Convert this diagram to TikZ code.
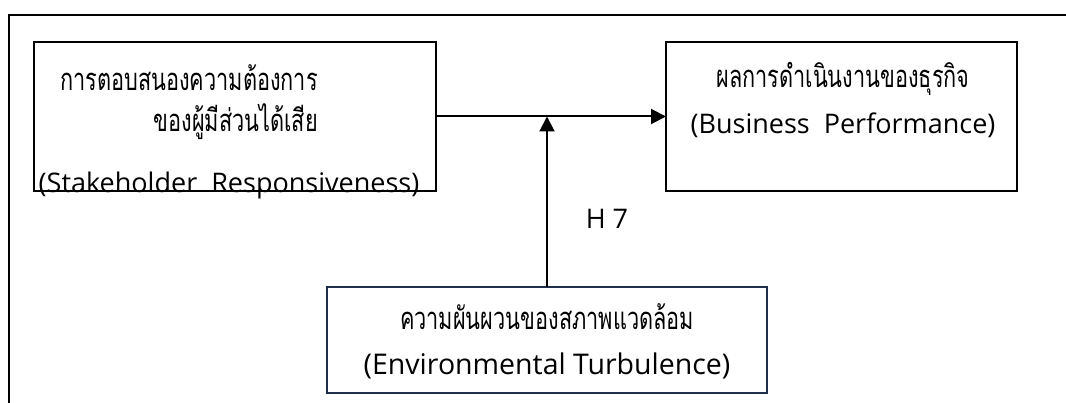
\documentclass[tikz,border=0pt]{standalone}
\usepackage{fontspec}
\setmainfont{Open Sans}
\newfontfamily\thaifont[Script=Thai,FakeStretch=0.7]{Loma}
\usetikzlibrary{arrows.meta}
\definecolor{navy}{RGB}{32,48,76}
\begin{document}
\begin{tikzpicture}[x=1pt,y=-1pt,
  box/.style={draw=black,line width=2pt,inner sep=0pt,outer sep=0pt,anchor=north west},
  lbl/.style={inner sep=0pt,font=\fontsize{27}{31}\selectfont},
  thl/.style={inner sep=0pt,font=\fontsize{31}{35}\selectfont\thaifont},
  arr/.style={line width=2pt,-{Triangle[length=15pt,width=15pt]}},
  frame/.style={line width=2.5pt}]
\useasboundingbox (0,0) rectangle (1066,403);
% outer frame (top and left only)
\coordinate (fr1) at (1066,15);
\coordinate (fr2) at (9,15);
\coordinate (fr3) at (9,403);
\draw[frame] (fr1) -- (fr2) -- (fr3);
% text first so borders lie on top
\node[thl,anchor=east] (l1) at (318,78) {การตอบสนองความต้องการ};
\node[thl,anchor=east] (l2) at (318,122) {ของผู้มีส่วนได้เสีย};
\node[lbl,anchor=base] (l3) at (229,192.5) {(Stakeholder\ \ Responsiveness)};
\node[thl] (r1) at (843,79) {ผลการดำเนินงานของธุรกิจ};
\node[lbl] (r2) at (843,125) {(Business\ \ Performance)};
\node[lbl] (h7) at (607,219) {H 7};
\node[thl] (b1) at (547,317) {ความผันผวนของสภาพแวดล้อม};
\node[lbl,font=\fontsize{28.5}{32}\selectfont] (b2) at (547,366) {(Environmental Turbulence)};
% boxes
\node[box,minimum width=402pt,minimum height=149pt] (sr) at (34,42) {};
\node[box,minimum width=351pt,minimum height=149pt] (bp) at (666,42) {};
\node[box,draw=navy,minimum width=440pt,minimum height=106pt] (et) at (327,287) {};
% connectors
\draw[arr] (sr.east) -- (bp.west);
\draw[arr] (et.north) -- (et.north |- sr.east);
\end{tikzpicture}
\end{document}
